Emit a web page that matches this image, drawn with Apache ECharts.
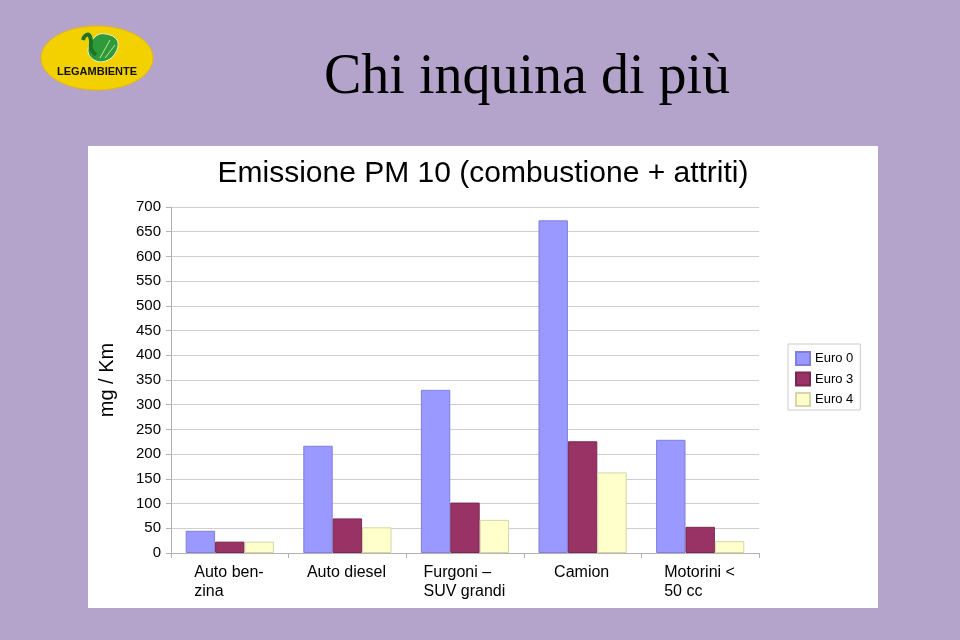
<!DOCTYPE html>
<html><head><meta charset="utf-8">
<script src="https://cdn.jsdelivr.net/npm/echarts@6/dist/echarts.min.js"></script>
<style>html,body{margin:0;padding:0;background:#b4a4cb;}#c{width:960px;height:640px;}</style>
</head><body><div id="c"></div>
<script>
var categories = ['Auto ben-\nzina', 'Auto diesel', 'Furgoni –\nSUV grandi', 'Camion', 'Motorini <\n50 cc'];
var euro0 = [45, 217, 330, 673, 229];
var euro3 = [23, 70, 102, 226, 53];
var euro4 = [23, 52, 67, 163, 24];
var seriesNames = ['Euro 0', 'Euro 3', 'Euro 4'];
var yTicks = [0, 700, 50];

var chart = echarts.init(document.getElementById('c'));
var cv = document.createElement('canvas').getContext('2d');
cv.font = '16px "Liberation Sans", Arial';
var rich = {};
categories.forEach(function (c, i) {
  var w = Math.max.apply(null, c.split('\n').map(function (l) { return cv.measureText(l).width; }));
  rich['r' + i] = { width: Math.ceil(w) + 1, align: 'left', fontSize: 16, lineHeight: 19, color: '#000', fontFamily: '"Liberation Sans", Arial' };
});

var font = '"Liberation Sans", Arial, sans-serif';
chart.setOption({
  backgroundColor: '#b4a4cb',
  animation: false,
  textStyle: { fontFamily: font },
  graphic: [
    { type: 'rect', shape: { x: 88, y: 146, width: 790, height: 462 }, style: { fill: '#ffffff' }, z: -10 },
    { type: 'ellipse', shape: { cx: 97, cy: 58, rx: 56, ry: 32 }, style: { fill: '#f3d100', stroke: '#e9b800', lineWidth: 1 }, z: 1 },
    { type: 'polygon', shape: { points: [[88, 50], [96, 36], [106, 34], [117, 40], [116, 52], [106, 61], [94, 60]], smooth: 0.4 }, style: { fill: '#2f9a3a', stroke: '#e8f3d0', lineWidth: 1 }, z: 2 },
    { type: 'polyline', shape: { points: [[96, 55], [91, 49], [91, 41], [89, 35], [85, 36], [83, 40]], smooth: 0.4 }, style: { stroke: '#1d7328', lineWidth: 4, fill: null }, z: 3 },
    { type: 'line', shape: { x1: 100, y1: 58, x2: 110, y2: 40 }, style: { stroke: '#bfe0a0', lineWidth: 1 }, z: 3 },
    { type: 'line', shape: { x1: 105, y1: 58, x2: 115, y2: 45 }, style: { stroke: '#bfe0a0', lineWidth: 1 }, z: 3 },
    { type: 'text', x: 97, y: 72, style: { text: 'LEGAMBIENTE', fill: '#111', font: 'bold 11px "Liberation Sans", Arial', align: 'center', verticalAlign: 'middle' }, z: 3 },
    { type: 'text', x: 527, y: 78, style: { text: 'Chi inquina di più', fill: '#000', font: '56px "Liberation Serif", "Times New Roman", serif', align: 'center', verticalAlign: 'middle' }, z: 3 },
    { type: 'text', x: 483, y: 174, style: { text: 'Emissione PM 10 (combustione + attriti)', fill: '#000', font: '30px "Liberation Sans", Arial', align: 'center', verticalAlign: 'middle' }, z: 3 }
  ],
  legend: {
    orient: 'vertical', left: 788, top: 344,
    data: seriesNames,
    itemWidth: 14, itemHeight: 13, itemGap: 5.5,
    padding: [7, 7, 3, 7],
    borderColor: '#cccccc', borderWidth: 1, backgroundColor: '#fff',
    textStyle: { fontSize: 13, color: '#000', fontFamily: font },
    icon: 'rect'
  },
  grid: { left: 171, right: 201, top: 207, bottom: 87, containLabel: false },
  xAxis: {
    type: 'category', data: categories,
    axisLine: { lineStyle: { color: '#b3b3b3' } },
    axisTick: { show: true, length: 5, lineStyle: { color: '#b3b3b3' } },
    axisLabel: {
      margin: 10, interval: 0,
      formatter: function (v, i) { return v.split('\n').map(function (l) { return '{r' + i + '|' + l + '}'; }).join('\n'); },
      rich: rich
    }
  },
  yAxis: {
    type: 'value', min: yTicks[0], max: yTicks[1], interval: yTicks[2],
    name: 'mg / Km', nameLocation: 'middle', nameRotate: 90, nameGap: 54,
    nameTextStyle: { fontSize: 20, color: '#000', fontFamily: font },
    axisLine: { show: true, lineStyle: { color: '#b3b3b3' } },
    axisTick: { show: true, length: 5, lineStyle: { color: '#b3b3b3' } },
    axisLabel: { fontSize: 15, color: '#000', margin: 10, fontFamily: font },
    splitLine: { lineStyle: { color: '#cfcfcf' } }
  },
  series: [
    { name: seriesNames[0], type: 'bar', data: euro0, barGap: '0%', barCategoryGap: '25%',
      itemStyle: { color: '#9999ff', borderColor: '#7f7fdd', borderWidth: 1 } },
    { name: seriesNames[1], type: 'bar', data: euro3, barGap: '0%', barCategoryGap: '25%',
      itemStyle: { color: '#993366', borderColor: '#7a2850', borderWidth: 1 } },
    { name: seriesNames[2], type: 'bar', data: euro4, barGap: '0%', barCategoryGap: '25%',
      itemStyle: { color: '#ffffcc', borderColor: '#d6d6a8', borderWidth: 1 } }
  ]
});
</script></body></html>
